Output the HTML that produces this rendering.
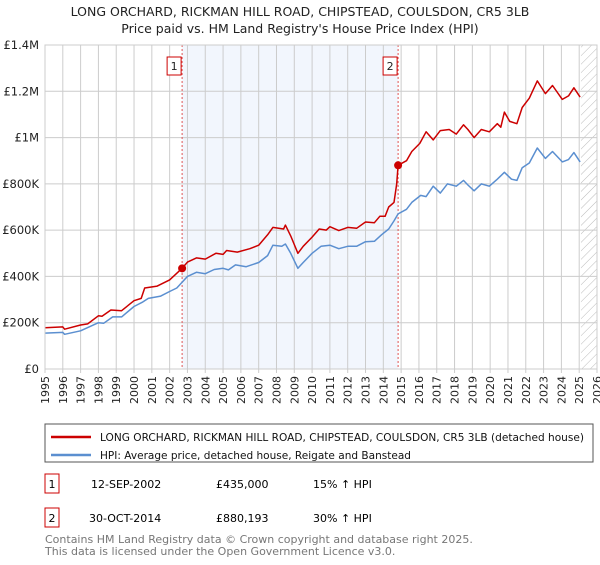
<!DOCTYPE html>
<html><head><meta charset="utf-8"><style>
body{margin:0;width:600px;height:560px;background:#fff;font-family:"Liberation Sans","DejaVu Sans",sans-serif;overflow:hidden}
svg text{font-family:"DejaVu Sans","Liberation Sans",sans-serif}
</style></head><body>
<svg id="c" width="600" height="560">
<defs><pattern id="hatch" width="6" height="6" patternUnits="userSpaceOnUse" patternTransform="rotate(45)"><line x1="0" y1="0" x2="0" y2="6" stroke="#bbb" stroke-width="1"/></pattern></defs>
<text x="300" y="16" text-anchor="middle" font-size="12.5" fill="#222">LONG ORCHARD, RICKMAN HILL ROAD, CHIPSTEAD, COULSDON, CR5 3LB</text>
<text x="300" y="33" text-anchor="middle" font-size="12.5" fill="#222">Price paid vs. HM Land Registry's House Price Index (HPI)</text>
<g id="plot"></g>
<rect x="45" y="424" width="548" height="38" fill="none" stroke="#555"/>
<line x1="51" y1="437" x2="91" y2="437" stroke="#cc0000" stroke-width="2.5"/>
<text x="100" y="441" font-size="10.5" fill="#111" textLength="484" lengthAdjust="spacingAndGlyphs">LONG ORCHARD, RICKMAN HILL ROAD, CHIPSTEAD, COULSDON, CR5 3LB (detached house)</text>
<line x1="51" y1="455" x2="91" y2="455" stroke="#5b8fd0" stroke-width="2.5"/>
<text x="100" y="459" font-size="10.5" fill="#111" textLength="311" lengthAdjust="spacingAndGlyphs">HPI: Average price, detached house, Reigate and Banstead</text>
<g>
<rect x="45" y="474" width="14" height="19" fill="none" stroke="#cc0000"/><text x="52" y="488" font-size="11" text-anchor="middle">1</text>
<text x="91" y="488" font-size="11">12-SEP-2002</text><text x="216" y="488" font-size="11">£435,000</text><text x="313" y="488" font-size="11">15% ↑ HPI</text></g>
<g>
<rect x="45" y="508" width="14" height="19" fill="none" stroke="#cc0000"/><text x="52" y="522" font-size="11" text-anchor="middle">2</text>
<text x="89" y="522" font-size="11">30-OCT-2014</text><text x="216" y="522" font-size="11">£880,193</text><text x="313" y="522" font-size="11">30% ↑ HPI</text></g>
<text x="45" y="543" font-size="11" fill="#777">Contains HM Land Registry data © Crown copyright and database right 2025.</text>
<text x="45" y="555" font-size="11" fill="#777">This data is licensed under the Open Government Licence v3.0.</text>
</svg>
<script>
const redYears=[1995,1996,1996.1,1997,1997.4,1998,1998.2,1998.7,1999.3,2000,2000.4,2000.6,2001.3,2002,2002.7,2003,2003.5,2004,2004.6,2005,2005.2,2005.8,2006.5,2007,2007.5,2007.8,2008.4,2008.5,2008.8,2009.2,2009.5,2010,2010.4,2010.8,2011,2011.5,2012,2012.5,2013,2013.5,2013.8,2014.1,2014.3,2014.6,2014.75,2014.83,2015.3,2015.6,2016.05,2016.4,2016.8,2017.2,2017.7,2018.1,2018.5,2018.75,2019.1,2019.5,2019.95,2020.4,2020.6,2020.8,2021.1,2021.5,2021.8,2022.2,2022.65,2023.1,2023.5,2024.05,2024.4,2024.7,2025.05];
const redValues=[178,182,172,190,195,230,228,255,252,295,305,350,358,385,435,462,480,475,500,495,512,505,520,535,580,612,605,622,575,500,530,570,605,600,615,598,612,608,635,632,660,660,700,720,800,880,900,940,975,1025,990,1030,1035,1015,1055,1035,1000,1035,1025,1060,1045,1110,1070,1060,1130,1170,1245,1190,1225,1165,1180,1215,1175];
const hpiYears=[1995,1996,1996.1,1997,1998,1998.3,1998.8,1999.3,2000,2000.5,2000.8,2001.5,2002,2002.4,2002.7,2003,2003.5,2004,2004.5,2005,2005.3,2005.7,2006.3,2007,2007.5,2007.8,2008.3,2008.5,2008.8,2009.2,2009.5,2010,2010.5,2011,2011.5,2012,2012.5,2013,2013.5,2013.9,2014.3,2014.6,2014.83,2015.3,2015.6,2016.1,2016.4,2016.8,2017.2,2017.6,2018.1,2018.5,2018.75,2019.1,2019.5,2019.95,2020.4,2020.8,2021.2,2021.5,2021.8,2022.2,2022.65,2023.1,2023.5,2024.05,2024.4,2024.7,2025.05];
const hpiValues=[155,158,150,165,200,198,225,225,270,290,305,315,335,350,375,400,418,412,430,435,428,450,442,460,490,535,530,540,500,435,460,500,530,535,520,530,530,550,552,580,605,640,670,690,720,750,745,790,760,800,790,815,795,770,800,790,820,850,820,815,870,890,955,910,940,895,905,935,895];
const saleYears=[2002.7,2014.83];
const saleValues=[435,880.193];
const saleLabels=["1","2"];
const yTicks=[0,200,400,600,800,1000,1200,1400];
const yTickLabels=["£0","£200K","£400K","£600K","£800K","£1M","£1.2M","£1.4M"];
const xTicks=[];for(let y=1995;y<=2026;y++)xTicks.push(y);
const X0=45,X1=597,Y0=369,Y1=45;
const xs=y=>X0+(y-1995)/(2026-1995)*(X1-X0);
const ys=v=>Y0-v/1400*(Y0-Y1);
const NS="http://www.w3.org/2000/svg";
const g=document.getElementById('plot');
function mk(t,a){const e=document.createElementNS(NS,t);for(const k in a)e.setAttribute(k,a[k]);g.appendChild(e);return e;}
let e;
e=mk('rect',{x:xs(2002.7),y:Y1,width:xs(2014.83)-xs(2002.7),height:Y0-Y1,fill:'#eef3fc',opacity:0.75});


e=mk('rect',{x:xs(2025.1),y:Y1,width:X1-xs(2025.1),height:Y0-Y1,fill:'url(#hatch)'});


xTicks.forEach(t=>{
 e=mk('line',{x1:xs(t),x2:xs(t),y1:Y1,y2:Y0+4,stroke:'#ccc'});
 
 
 e=mk('text',{x:0,y:0,'font-size':11,fill:'#222','text-anchor':'end',transform:`translate(${xs(t)+4},${Y0+7}) rotate(-90)`});
 e.textContent=t;
 
 
});
yTicks.forEach((t,i)=>{
 e=mk('line',{x1:X0,x2:X1,y1:ys(t),y2:ys(t),stroke:'#ccc'});
 
 
 e=mk('text',{x:X0-6,y:ys(t)+4,'font-size':11.5,fill:'#222','text-anchor':'end'});
 e.textContent=yTickLabels[i];
 
 
});
saleYears.forEach((s,i)=>{
 e=mk('line',{x1:xs(s),x2:xs(s),y1:Y1,y2:Y0,stroke:'#e05555','stroke-dasharray':'2,2'});
 
 
});
function path(xa,va,c,n){
 const d=xa.map((x,i)=>(i?'L':'M')+xs(x).toFixed(1)+','+ys(va[i]).toFixed(1)).join('');
 e=mk('path',{d:d,fill:'none',stroke:c,'stroke-width':1.5,'stroke-linejoin':'round'});
 
 
}
path(hpiYears,hpiValues,'#5b8fd0','hpi-line');
path(redYears,redValues,'#cc0000','property-price-line');
saleYears.forEach((s,i)=>{
 e=mk('circle',{cx:xs(s),cy:ys(saleValues[i]),r:4,fill:'#cc0000'});
 
 
 e=mk('rect',{x:xs(s)-15,y:57,width:14,height:18,fill:'#fff',stroke:'#cc0000'});
 
 
 e=mk('text',{x:xs(s)-8,y:70,'font-size':11,'text-anchor':'middle',fill:'#222'});
 e.textContent=saleLabels[i];
 
 
});
e=mk('rect',{x:X0,y:Y1,width:X1-X0,height:Y0-Y1,fill:'none',stroke:'#ccc'});


</script>
</body></html>
